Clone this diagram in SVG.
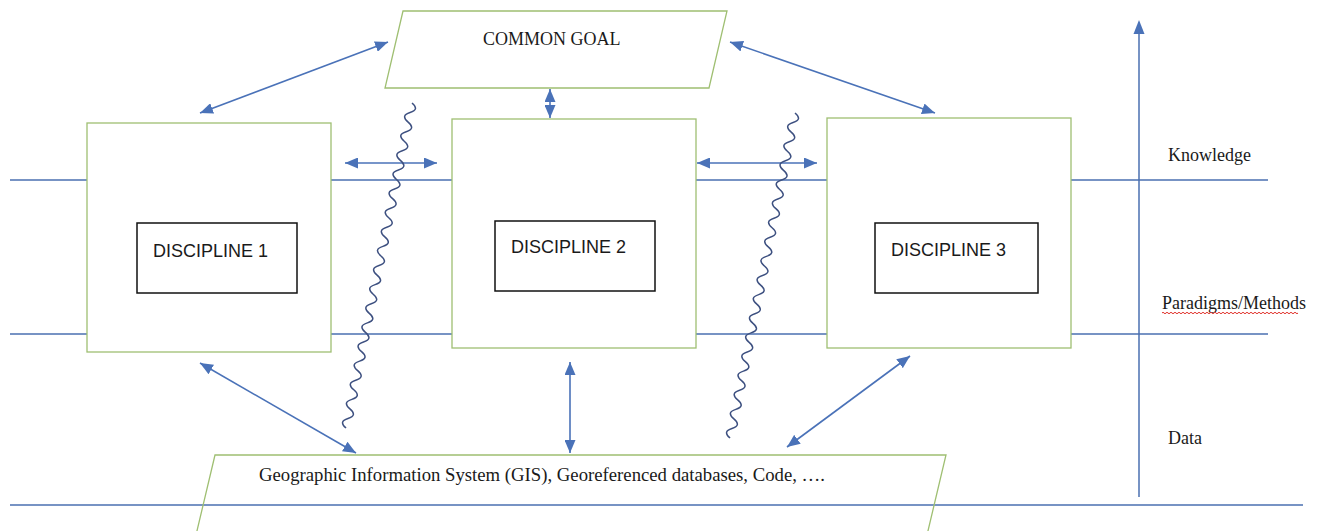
<svg xmlns="http://www.w3.org/2000/svg" width="1320" height="531" viewBox="0 0 1320 531">
<style>
.bg{fill:#ffffff}
.lvl{stroke:#4a6fb0;stroke-width:1.3;fill:none}
.node{fill:#ffffff;stroke:#9fbf72;stroke-width:1.3}
.para{fill:none;stroke:#9fbf72;stroke-width:1.3}
.inner{fill:#ffffff;stroke:#111111;stroke-width:1.5}
.arr{stroke:#4a72b8;stroke-width:1.6;fill:none;marker-start:url(#ah);marker-end:url(#ah)}
.sq{stroke:#3d5080;stroke-width:1.5;fill:none;stroke-linejoin:round}
.serif{font-family:"Liberation Serif","Times New Roman",serif;font-size:18px;fill:#1a1a1a}
.sans{font-family:"Liberation Sans",Arial,sans-serif;font-size:18px;fill:#1a1a1a}
</style>
<defs>
<marker id="ah" markerWidth="13" markerHeight="11" refX="13" refY="5.5" orient="auto-start-reverse" markerUnits="userSpaceOnUse">
<path d="M0,0 L13,5.5 L0,11 Z" fill="#4a72b8"/>
</marker>
</defs>
<rect class="bg" x="0" y="0" width="1320" height="531"/>

<g id="levels">
<line class="lvl" x1="10" y1="180" x2="1268" y2="180"/>
<line class="lvl" x1="10" y1="334" x2="1268" y2="334"/>
<line class="lvl" x1="10" y1="505" x2="1303" y2="505"/>
<line x1="1139" y1="497" x2="1139" y2="34" stroke="#4a6fb0" stroke-width="1.5"/>
<path d="M1139,20 L1133.5,34 L1144.5,34 Z" fill="#4a72b8"/>
<text class="serif" x="1168" y="161">Knowledge</text>
<text class="serif" x="1162" y="309">Paradigms/Methods</text>
<path d="M1162,313 q1,-1.5 2,0 t2,0 t2,0 t2,0 t2,0 t2,0 t2,0 t2,0 t2,0 t2,0 t2,0 t2,0 t2,0 t2,0 t2,0 t2,0 t2,0 t2,0 t2,0 t2,0 t2,0 t2,0 t2,0 t2,0 t2,0 t2,0 t2,0 t2,0 t2,0 t2,0 t2,0 t2,0 t2,0 t2,0 t2,0 t2,0 t2,0 t2,0 t2,0 t2,0 t2,0 t2,0 t2,0 t2,0 t2,0 t2,0 t2,0 t2,0 t2,0 t2,0 t2,0 t2,0 t2,0 t2,0 t2,0 t2,0 t2,0 t2,0 t2,0 t2,0 t2,0 t2,0 t2,0 t2,0 t2,0 t2,0 t2,0 t2,0" stroke="#e0302a" stroke-width="1" fill="none"/>
<text class="serif" x="1168" y="444">Data</text>
</g>

<g id="goal">
<polygon class="node" points="403,11 727,11 709,88 385,88"/>
<text class="serif" x="483" y="45">COMMON GOAL</text>
</g>

<g id="d1">
<rect class="node" x="87" y="123" width="244" height="229"/>
<rect class="inner" x="137" y="223" width="160" height="70"/>
<text class="sans" x="153" y="257">DISCIPLINE 1</text>
</g>

<g id="d2">
<rect class="node" x="452" y="119" width="244" height="229"/>
<rect class="inner" x="495" y="221" width="160" height="70"/>
<text class="sans" x="511" y="253">DISCIPLINE 2</text>
</g>

<g id="d3">
<rect class="node" x="827" y="118" width="244" height="230"/>
<rect class="inner" x="875" y="223" width="163" height="70"/>
<text class="sans" x="891" y="256">DISCIPLINE 3</text>
</g>

<g id="gis">
<polygon class="para" points="215,455 946,455 927,535 196,535"/>
<text class="serif" x="259" y="481" textLength="566" lengthAdjust="spacingAndGlyphs">Geographic Information System (GIS), Georeferenced databases, Code, ….</text>
</g>

<g id="connectors">
<line class="arr" x1="200" y1="113" x2="388" y2="42"/>
<line class="arr" x1="730" y1="42" x2="935" y2="113"/>
<line class="arr" x1="550" y1="89" x2="550" y2="118"/>
<line class="arr" x1="345" y1="163" x2="437" y2="163"/>
<line class="arr" x1="697" y1="163" x2="817" y2="163"/>
<line class="arr" x1="200" y1="363" x2="356" y2="453"/>
<line class="arr" x1="570" y1="362" x2="570" y2="453"/>
<line class="arr" x1="910" y1="356" x2="787" y2="447"/>
<path class="sq" d="M412,103 q7.85,6.58 -1.94,9.56 t-1.94,9.56 t-1.94,9.56 t-1.94,9.56 t-1.94,9.56 t-1.94,9.56 t-1.94,9.56 t-1.94,9.56 t-1.94,9.56 t-1.94,9.56 t-1.94,9.56 t-1.94,9.56 t-1.94,9.56 t-1.94,9.56 t-1.94,9.56 t-1.94,9.56 t-1.94,9.56 t-1.94,9.56 t-1.94,9.56 t-1.94,9.56 t-1.94,9.56 t-1.94,9.56 t-1.94,9.56 t-1.94,9.56 t-1.94,9.56 t-1.94,9.56 t-1.94,9.56 t-1.94,9.56 t-1.94,9.56 t-1.94,9.56 t-1.94,9.56 t-1.94,9.56 t-1.94,9.56 t-1.94,9.56"/>
<path class="sq" d="M795,113 q7.87,6.58 -1.91,9.56 t-1.91,9.56 t-1.91,9.56 t-1.91,9.56 t-1.91,9.56 t-1.91,9.56 t-1.91,9.56 t-1.91,9.56 t-1.91,9.56 t-1.91,9.56 t-1.91,9.56 t-1.91,9.56 t-1.91,9.56 t-1.91,9.56 t-1.91,9.56 t-1.91,9.56 t-1.91,9.56 t-1.91,9.56 t-1.91,9.56 t-1.91,9.56 t-1.91,9.56 t-1.91,9.56 t-1.91,9.56 t-1.91,9.56 t-1.91,9.56 t-1.91,9.56 t-1.91,9.56 t-1.91,9.56 t-1.91,9.56 t-1.91,9.56 t-1.91,9.56 t-1.91,9.56 t-1.91,9.56 t-1.91,9.56"/>
</g>
</svg>
